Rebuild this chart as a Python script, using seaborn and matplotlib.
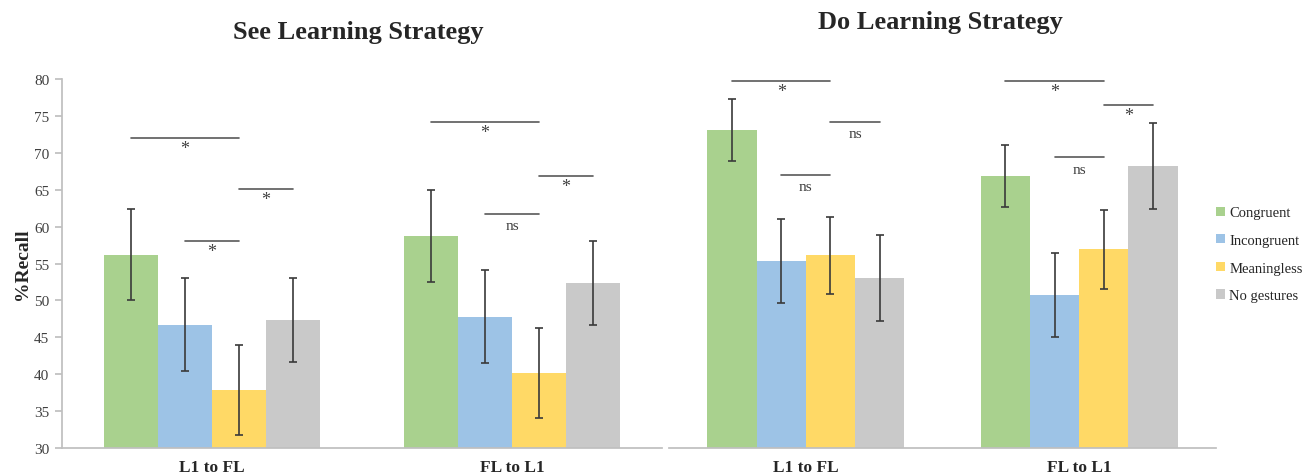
import numpy as np
import pandas as pd
import seaborn as sns
import matplotlib.pyplot as plt

# data
directions = ['L1 to FL', 'FL to L1']
conditions = ['Congruent', 'Incongruent', 'Meaningless', 'No gestures']
colors = ['#A9D18E', '#9DC3E6', '#FFD966', '#C9C9C9']

see_l1_fl = [56.2, 46.7, 37.8, 47.4]
see_fl_l1 = [58.7, 47.8, 40.2, 52.4]
see_err_l1_fl = [6.2, 6.3, 6.1, 5.7]
see_err_fl_l1 = [6.2, 6.3, 6.1, 5.7]

do_l1_fl = [73.1, 55.3, 56.1, 53.0]
do_fl_l1 = [66.9, 50.7, 56.9, 68.2]
do_err_l1_fl = [4.2, 5.7, 5.2, 5.8]
do_err_fl_l1 = [4.2, 5.7, 5.3, 5.8]

# significance brackets: (group, from bar, to bar, height, label)
see_brackets = [(0, 0, 2, 72.0, '*'), (0, 1, 2, 58.0, '*'), (0, 2, 3, 65.1, '*'),
                (1, 0, 2, 74.2, '*'), (1, 1, 2, 61.7, 'ns'), (1, 2, 3, 66.8, '*')]
do_brackets = [(0, 0, 2, 79.7, '*'), (0, 1, 2, 67.0, 'ns'), (0, 2, 3, 74.2, 'ns'),
               (1, 0, 2, 79.7, '*'), (1, 1, 2, 69.4, 'ns'), (1, 2, 3, 76.5, '*')]

sns.set_theme(style='white')
plt.rcParams['font.family'] = ['Liberation Serif', 'DejaVu Serif']


def make_table(first, second, err1, err2):
    rows = []
    for d, vals, errs in [(directions[0], first, err1), (directions[1], second, err2)]:
        for c, v, e in zip(conditions, vals, errs):
            rows.append({'direction': d, 'condition': c, 'recall': v, 'err': e})
    return pd.DataFrame(rows)


def draw_panel(ax, table, brackets, legend=False):
    sns.barplot(data=table, x='direction', y='recall', hue='condition',
                hue_order=conditions, palette=colors, width=0.72, saturation=1,
                errorbar=None, legend=legend, linewidth=0, ax=ax)
    # bar centres per condition/group from the containers
    centres = {}
    bar_conts = list(ax.containers)
    for ci, cont in enumerate(bar_conts):
        for gi, patch in enumerate(cont.patches):
            x = patch.get_x() + patch.get_width() / 2
            centres[(gi, ci)] = x
            row = table[(table.direction == directions[gi]) & (table.condition == conditions[ci])].iloc[0]
            ax.errorbar(x, row.recall, yerr=row.err, color='#3a3a3a', lw=1.2,
                        capsize=3, capthick=1.2)
    for g, i, j, h, lab in brackets:
        x0, x1 = centres[(g, i)], centres[(g, j)]
        ax.plot([x0, x1], [h, h], color='#595959', lw=1.2, clip_on=False)
        dy = 1.4 if lab == '*' else 1.6
        ax.text((x0 + x1) / 2, h - dy, lab, ha='center', va='center',
                fontsize=11 if lab == 'ns' else 13, color='#404040')
    ax.set_ylim(30, 80)
    ax.set_xlim(-0.5, 1.5)
    ax.set_xlabel('')
    ax.tick_params(axis='x', length=0, pad=8, labelsize=12.5)
    for t in ax.get_xticklabels():
        t.set_fontweight('bold')
    for s in ['top', 'right']:
        ax.spines[s].set_visible(False)
    ax.spines['bottom'].set_color('#bfbfbf')
    ax.spines['left'].set_color('#bfbfbf')


fig = plt.figure(figsize=(13.06, 4.77), dpi=100)
ax1 = fig.add_axes([62 / 1306, 28 / 477, 600 / 1306, 369 / 477])
ax2 = fig.add_axes([669 / 1306, 28 / 477, 547 / 1306, 369 / 477])

draw_panel(ax1, make_table(see_l1_fl, see_fl_l1, see_err_l1_fl, see_err_fl_l1), see_brackets)
draw_panel(ax2, make_table(do_l1_fl, do_fl_l1, do_err_l1_fl, do_err_fl_l1), do_brackets, legend=True)

ax1.set_yticks(np.arange(30, 81, 5))
ax1.tick_params(axis='y', length=5, color='#bfbfbf', labelsize=11, labelcolor='#404040', left=True, pad=4)
ax1.set_ylabel('%Recall', fontsize=14, fontweight='bold', labelpad=2)

ax2.spines['left'].set_visible(False)
ax2.set_yticks([])
ax2.set_ylabel('')

sns.move_legend(ax2, loc='center left', bbox_to_anchor=(0.99, 0.525), frameon=False,
                title=None, fontsize=10.5, handlelength=0.6, handleheight=0.6,
                handletextpad=0.3, labelspacing=1.0, borderaxespad=0)

fig.text(358 / 1306, 1 - 33 / 477, 'See Learning Strategy', ha='center', va='center',
         fontsize=19, fontweight='bold')
fig.text(940 / 1306, 1 - 22 / 477, 'Do Learning Strategy', ha='center', va='center',
         fontsize=19, fontweight='bold')

fig.savefig('out.png', dpi=100)
